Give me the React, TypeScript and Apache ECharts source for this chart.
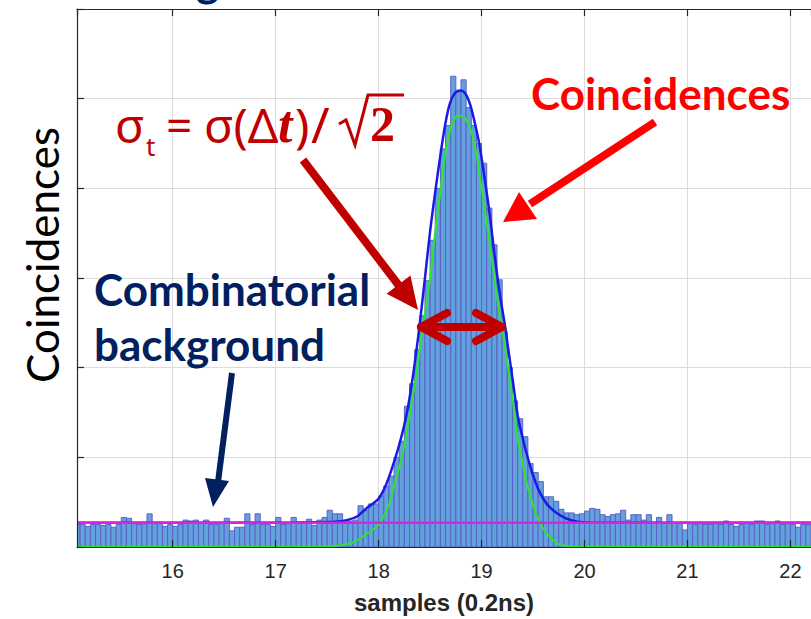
import { useEffect, useRef } from "react";
import * as echarts from "echarts";

// ---- data ----
const X_MIN = 15.07;
const X_MAX = 22.2;
const Y_MAX = 600;
const Y_STEP = 100;
const BIN_START = 15.05;
const BIN_WIDTH = 0.05;
const BACKGROUND_LEVEL = 27;

// histogram counts, one per 0.05 bin starting at 15.05
const counts = [
  25, 25, 23, 25, 25, 24, 25, 22, 25, 33,
  32, 26, 25, 26, 37, 26, 26, 23, 25, 23,
  25, 30, 29, 30, 27, 30, 25, 25, 26, 32,
  18, 22, 22, 37, 25, 37, 25, 25, 23, 33,
  25, 26, 33, 27, 27, 31, 24, 30, 33, 41,
  37, 37, 29, 29, 30, 46, 41, 48, 48, 57,
  68, 79, 100, 118, 157, 182, 220, 258, 297, 342,
  400, 444, 470, 525, 507, 521, 490, 470, 450, 428,
  378, 337, 298, 240, 200, 163, 143, 123, 93, 83,
  73, 56, 56, 51, 42, 38, 38, 36, 37, 40,
  43, 42, 36, 34, 36, 37, 41, 30, 36, 36,
  30, 36, 27, 33, 27, 36, 27, 26, 19, 26,
  25, 26, 25, 25, 26, 25, 29, 25, 23, 25,
  26, 25, 29, 29, 25, 26, 29, 25, 26, 25,
  22, 25, 25,
];

// total fit (blue)
const blueFitX = [15.07, 16.5, 17.2, 17.5, 17.6, 17.69, 17.79, 17.88, 18.0, 18.07, 18.13, 18.2, 18.27, 18.33, 18.39, 18.45, 18.5, 18.55, 18.6, 18.645, 18.69, 18.74, 18.79, 18.84, 18.89, 18.94, 18.98, 19.03, 19.08, 19.13, 19.18, 19.23, 19.26, 19.31, 19.35, 19.4, 19.45, 19.5, 19.56, 19.64, 19.73, 19.82, 19.92, 20.05, 22.2];
const blueFitY = [27, 27, 27.3, 27.8, 28.5, 30, 34, 43, 54, 69, 88, 114, 147, 188, 240, 300, 352, 396, 437, 470, 494, 506, 509, 506, 493, 470, 448, 411, 370, 322, 280, 245, 220, 180, 147, 121, 99, 80, 62, 47, 38, 32, 28.5, 27.3, 27];

// gaussian peak (green)
const greenFitX = [15.07, 17.3, 17.5, 17.66, 17.75, 17.85, 18.0, 18.1, 18.16, 18.23, 18.29, 18.36, 18.42, 18.5, 18.55, 18.6, 18.645, 18.69, 18.74, 18.79, 18.84, 18.89, 18.94, 18.98, 19.03, 19.08, 19.13, 19.18, 19.23, 19.26, 19.31, 19.35, 19.4, 19.45, 19.5, 19.56, 19.63, 19.73, 19.82, 19.95, 22.2];
const greenFitY = [0, 0, 0.5, 2.6, 5, 12, 25, 47, 73, 102, 140, 188, 239, 300, 352, 396, 437, 463, 478, 481, 478, 467, 444, 415, 378, 337, 296, 255, 222, 199, 158, 121, 92, 66, 47, 28, 15.5, 4.4, 1, 0, 0];

const X_TITLE = "samples (0.2ns)";
const Y_TITLE = "Coincidences";

const DARK_RED = "#C00000";
const RED = "#FF0000";
const NAVY = "#002060";

export default function App() {
  const ref = useRef<HTMLDivElement>(null);

  useEffect(() => {
    if (!ref.current) return;
    const chart = echarts.init(ref.current, undefined, { renderer: "svg" });

    const histData = counts.map((c, i) => [
      BIN_START + i * BIN_WIDTH,
      BIN_START + (i + 1) * BIN_WIDTH,
      c,
    ]);
    const blueData = blueFitX.map((x, i) => [x, blueFitY[i]]);
    const greenData = greenFitX.map((x, i) => [x, greenFitY[i]]);
    const bgData = [
      [X_MIN, BACKGROUND_LEVEL],
      [X_MAX, BACKGROUND_LEVEL],
    ];

    const axisColor = "#262626";
    const gridColor = "#dcdcdc";

    const sans = "Noto Sans";
    const option: any = {
      animation: false,
      grid: { left: 77, right: 0, top: 9, bottom: 70, containLabel: false },
      xAxis: [
        {
          type: "value",
          position: "bottom",
          min: X_MIN,
          max: X_MAX,
          splitNumber: 7,
          z: 10,
          axisLine: { show: true, onZero: false, lineStyle: { color: axisColor, width: 1.2 } },
          axisTick: { show: true, inside: true, length: 7, lineStyle: { color: axisColor, width: 1.2 } },
          axisLabel: {
            show: true,
            showMinLabel: false,
            showMaxLabel: false,
            margin: 14,
            color: axisColor,
            fontSize: 20,
            fontFamily: "Liberation Sans",
            formatter: (v: number) => (Number.isInteger(v) ? String(v) : ""),
          },
          splitLine: { show: false },
          name: X_TITLE,
          nameLocation: "middle",
          nameGap: 43,
          nameTextStyle: {
            color: axisColor,
            fontSize: 24,
            fontWeight: "bold",
            fontFamily: "Liberation Sans",
          },
        },
        {
          type: "value",
          position: "top",
          min: X_MIN,
          max: X_MAX,
          splitNumber: 7,
          z: 0,
          axisLine: { show: true, onZero: false, lineStyle: { color: axisColor, width: 1.2 } },
          axisTick: { show: true, inside: true, length: 7, lineStyle: { color: axisColor, width: 1.2 } },
          axisLabel: { show: false },
          splitLine: { show: true, showMinLine: false, showMaxLine: false, lineStyle: { color: gridColor, width: 1 } },
        },
      ],
      yAxis: [
        {
          type: "value",
          position: "left",
          min: 0,
          max: Y_MAX,
          interval: Y_STEP,
          z: 10,
          axisLine: { show: true, onZero: false, lineStyle: { color: axisColor, width: 1.2 } },
          axisTick: { show: true, inside: true, length: 7, lineStyle: { color: axisColor, width: 1.2 } },
          axisLabel: { show: false },
          splitLine: { show: false },
        },
        {
          type: "value",
          position: "right",
          min: 0,
          max: Y_MAX,
          interval: Y_STEP,
          z: 0,
          axisLine: { show: false },
          axisTick: { show: false },
          axisLabel: { show: false },
          splitLine: { show: true, lineStyle: { color: gridColor, width: 1 } },
        },
      ],
      series: [
        {
          type: "custom",
          xAxisIndex: 0,
          yAxisIndex: 0,
          clip: true,
          z: 2,
          encode: { x: [0, 1], y: 2 },
          data: histData,
          renderItem: (params: any, api: any) => {
            const p0 = api.coord([api.value(0), api.value(2)]);
            const p1 = api.coord([api.value(1), 0]);
            return {
              type: "rect",
              shape: { x: p0[0], y: p0[1], width: p1[0] - p0[0], height: p1[1] - p0[1] },
              style: { fill: "#62A2DC", stroke: "#5C60C8", lineWidth: 1 },
            };
          },
        },
        {
          type: "line",
          xAxisIndex: 0,
          yAxisIndex: 0,
          data: greenData,
          smooth: 0.3,
          showSymbol: false,
          symbol: "none",
          z: 3,
          lineStyle: { color: "#2BE62B", width: 2 },
        },
        {
          type: "line",
          xAxisIndex: 0,
          yAxisIndex: 0,
          data: blueData,
          smooth: 0.3,
          showSymbol: false,
          symbol: "none",
          z: 4,
          lineStyle: { color: "#1A1AE6", width: 2.5 },
        },
        {
          type: "line",
          xAxisIndex: 0,
          yAxisIndex: 0,
          data: bgData,
          showSymbol: false,
          symbol: "none",
          z: 5,
          lineStyle: { color: "#E020E0", width: 2.5 },
        },
      ],
      graphic: [
        // y axis title
        {
          type: "text",
          x: 42,
          y: 255,
          rotation: Math.PI / 2,
          z: 100,
          style: { text: Y_TITLE, font: "44px Lato", fill: "#000", align: "center", verticalAlign: "middle" },
        },
        // cropped text at the very top
        {
          type: "text",
          x: 196,
          y: -20,
          z: 100,
          style: { text: "g", font: "bold 44px Lato", fill: NAVY, align: "left", verticalAlign: "middle" },
        },
        // formula sigma_t = sigma(Δt)/√2
        {
          type: "text", x: 115, y: 124, z: 100,
          style: { text: "σ", font: `48px '${sans}'`, fill: DARK_RED, align: "left", verticalAlign: "middle" },
        },
        {
          type: "text", x: 146, y: 146, z: 100,
          style: { text: "t", font: `26px '${sans}'`, fill: DARK_RED, align: "left", verticalAlign: "middle" },
        },
        {
          type: "text", x: 166, y: 124, z: 100,
          style: { text: "=", font: `46px '${sans}'`, fill: DARK_RED, align: "left", verticalAlign: "middle" },
        },
        {
          type: "text", x: 204, y: 124, z: 100,
          style: { text: "σ(Δ", font: `48px '${sans}'`, fill: DARK_RED, align: "left", verticalAlign: "middle" },
        },
        {
          type: "text", x: 278, y: 124, z: 100,
          style: { text: "t", font: "italic bold 52px 'Liberation Serif'", fill: DARK_RED, align: "left", verticalAlign: "middle" },
        },
        {
          type: "text", x: 295, y: 124, z: 100,
          style: { text: ")", font: `48px '${sans}'`, fill: DARK_RED, align: "left", verticalAlign: "middle" },
        },
        {
          type: "text", x: 311, y: 124, z: 100,
          style: { text: "/", font: `50px '${sans}'`, fill: DARK_RED, align: "left", verticalAlign: "middle" },
        },
        {
          type: "polyline", z: 100,
          shape: { points: [[339, 124], [346, 120], [355, 145], [368, 95], [404, 95]] },
          style: { stroke: DARK_RED, lineWidth: 3, fill: "none", lineJoin: "miter" },
        },
        {
          type: "text", x: 370, y: 124, z: 100,
          style: { text: "2", font: "bold 50px 'Liberation Serif'", fill: DARK_RED, align: "left", verticalAlign: "middle" },
        },
        // "Coincidences" annotation
        {
          type: "text", x: 531, y: 93, z: 100,
          style: { text: "Coincidences", font: "bold 44px Lato", fill: RED, align: "left", verticalAlign: "middle" },
        },
        // "Combinatorial background"
        {
          type: "text", x: 94, y: 289, z: 100,
          style: { text: "Combinatorial", font: "bold 44px Lato", fill: NAVY, align: "left", verticalAlign: "middle" },
        },
        {
          type: "text", x: 94, y: 344, z: 100,
          style: { text: "background", font: "bold 44px Lato", fill: NAVY, align: "left", verticalAlign: "middle" },
        },
        // dark red arrow from formula
        {
          type: "line", z: 100,
          shape: { x1: 303, y1: 160, x2: 400, y2: 287 },
          style: { stroke: DARK_RED, lineWidth: 8 },
        },
        {
          type: "polygon", z: 100,
          shape: { points: [[418, 310], [386.6, 293.7], [410.4, 275.5]] },
          style: { fill: DARK_RED },
        },
        // red arrow from "Coincidences"
        {
          type: "line", z: 100,
          shape: { x1: 655, y1: 122, x2: 530, y2: 204 },
          style: { stroke: RED, lineWidth: 8 },
        },
        {
          type: "polygon", z: 100,
          shape: { points: [[503, 222], [537, 219], [519, 192]] },
          style: { fill: RED },
        },
        // navy arrow to background
        {
          type: "line", z: 100,
          shape: { x1: 232, y1: 373, x2: 218, y2: 482 },
          style: { stroke: NAVY, lineWidth: 6 },
        },
        {
          type: "polygon", z: 100,
          shape: { points: [[213, 507], [229, 481], [205, 478]] },
          style: { fill: NAVY },
        },
        // double-headed width arrow
        {
          type: "line", z: 100,
          shape: { x1: 421, y1: 327, x2: 502, y2: 327 },
          style: { stroke: DARK_RED, lineWidth: 8, lineCap: "round" },
        },
        {
          type: "polyline", z: 100,
          shape: { points: [[447, 313], [421, 327], [447, 341]] },
          style: { stroke: DARK_RED, lineWidth: 8, fill: "none", lineCap: "round", lineJoin: "round" },
        },
        {
          type: "polyline", z: 100,
          shape: { points: [[476, 313], [502, 327], [476, 341]] },
          style: { stroke: DARK_RED, lineWidth: 8, fill: "none", lineCap: "round", lineJoin: "round" },
        },
      ],
    };

    chart.setOption(option);
    return () => chart.dispose();
  }, []);

  return (
    <div
      ref={ref}
      style={{ position: "fixed", left: 0, top: 0, width: 811, height: 619, background: "#fff" }}
    />
  );
}
